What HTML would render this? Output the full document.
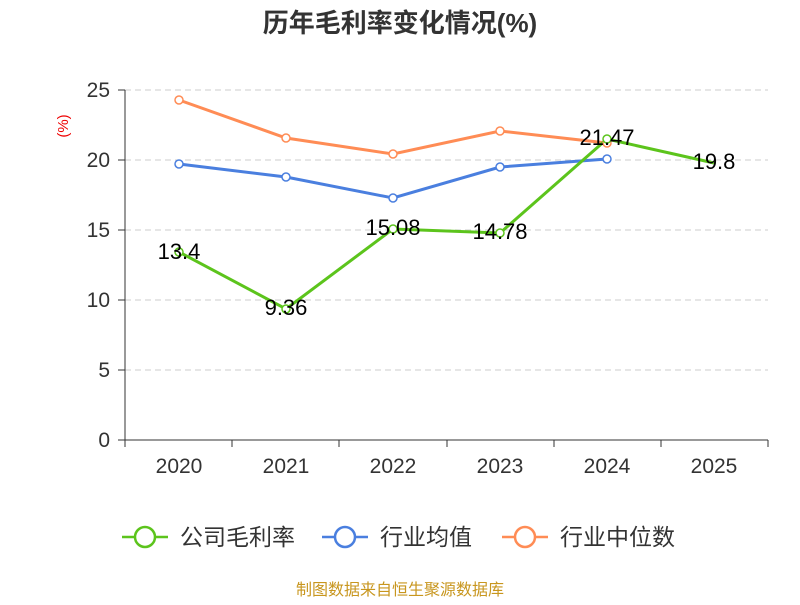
<!DOCTYPE html>
<html><head><meta charset="utf-8"><style>
body{margin:0;background:#fff;}
svg text{font-family:"Liberation Sans","Noto Sans CJK SC",sans-serif;}
</style></head><body>
<svg width="800" height="600" xmlns="http://www.w3.org/2000/svg">
<text x="400" y="32" text-anchor="middle" font-size="26" font-weight="bold" fill="#333">历年毛利率变化情况(%)</text>
<text x="68" y="126" font-size="15" fill="#e00" transform="rotate(-90 68 126)" text-anchor="middle">(%)</text>
<g stroke="#ccc" stroke-dasharray="6,4" stroke-width="1">
<line x1="125" x2="768" y1="90" y2="90"/><line x1="125" x2="768" y1="160" y2="160"/>
<line x1="125" x2="768" y1="230" y2="230"/><line x1="125" x2="768" y1="300" y2="300"/>
<line x1="125" x2="768" y1="370" y2="370"/></g>
<g stroke="#333" stroke-width="1">
<line x1="125" x2="125" y1="90" y2="440"/><line x1="125" x2="768" y1="440" y2="440"/>
<line x1="118" x2="125" y1="90" y2="90"/><line x1="118" x2="125" y1="160" y2="160"/><line x1="118" x2="125" y1="230" y2="230"/><line x1="118" x2="125" y1="300" y2="300"/><line x1="118" x2="125" y1="370" y2="370"/><line x1="118" x2="125" y1="440" y2="440"/>
<line x1="125" x2="125" y1="440" y2="447"/><line x1="232" x2="232" y1="440" y2="447"/><line x1="339" x2="339" y1="440" y2="447"/><line x1="447" x2="447" y1="440" y2="447"/><line x1="554" x2="554" y1="440" y2="447"/><line x1="661" x2="661" y1="440" y2="447"/><line x1="768" x2="768" y1="440" y2="447"/>
</g>
<g font-size="21" fill="#333" text-anchor="end">
<text x="110" y="97">25</text><text x="110" y="167">20</text><text x="110" y="237">15</text><text x="110" y="307">10</text><text x="110" y="377">5</text><text x="110" y="447">0</text></g>
<g font-size="21" fill="#333" text-anchor="middle">
<text x="179" y="473">2020</text><text x="286" y="473">2021</text><text x="393" y="473">2022</text><text x="500" y="473">2023</text><text x="607" y="473">2024</text><text x="714" y="473">2025</text></g>
<polyline fill="none" stroke="#ff8c55" stroke-width="3" points="179,100 286,138 393,154 500,131 607,143"/>
<polyline fill="none" stroke="#4a7fdf" stroke-width="3" points="179,164 286,177 393,198 500,167 607,159"/>
<polyline fill="none" stroke="#5cc41c" stroke-width="3" points="179,252 286,309 393,229 500,233 607,139 714,163"/>
<g fill="#fff" stroke-width="1.5">
<g stroke="#ff8c55"><circle cx="179" cy="100" r="4"/><circle cx="286" cy="138" r="4"/><circle cx="393" cy="154" r="4"/><circle cx="500" cy="131" r="4"/><circle cx="607" cy="143" r="4"/></g>
<g stroke="#4a7fdf"><circle cx="179" cy="164" r="4"/><circle cx="286" cy="177" r="4"/><circle cx="393" cy="198" r="4"/><circle cx="500" cy="167" r="4"/><circle cx="607" cy="159" r="4"/></g>
<g stroke="#5cc41c"><circle cx="179" cy="252" r="4"/><circle cx="286" cy="309" r="4"/><circle cx="393" cy="229" r="4"/><circle cx="500" cy="233" r="4"/><circle cx="607" cy="139" r="4"/></g>
</g>
<g font-size="22" fill="#000" text-anchor="middle">
<text x="179" y="259">13.4</text><text x="286" y="315">9.36</text><text x="393" y="235">15.08</text><text x="500" y="239">14.78</text><text x="607" y="145">21.47</text><text x="714" y="169">19.8</text></g>
<g stroke-width="2.5" fill="#fff">
<line x1="122" x2="168" y1="537" y2="537" stroke="#5cc41c"/><circle cx="145" cy="537" r="10" stroke="#5cc41c"/>
<line x1="322" x2="368" y1="537" y2="537" stroke="#4a7fdf"/><circle cx="345" cy="537" r="10" stroke="#4a7fdf"/>
<line x1="502" x2="548" y1="537" y2="537" stroke="#ff8c55"/><circle cx="525" cy="537" r="10" stroke="#ff8c55"/>
</g>
<g font-size="23" fill="#333">
<text x="180" y="545">公司毛利率</text><text x="380" y="545">行业均值</text><text x="560" y="545">行业中位数</text></g>
<text x="400" y="595" text-anchor="middle" font-size="16" fill="#c8961e">制图数据来自恒生聚源数据库</text>
</svg>
</body></html>
